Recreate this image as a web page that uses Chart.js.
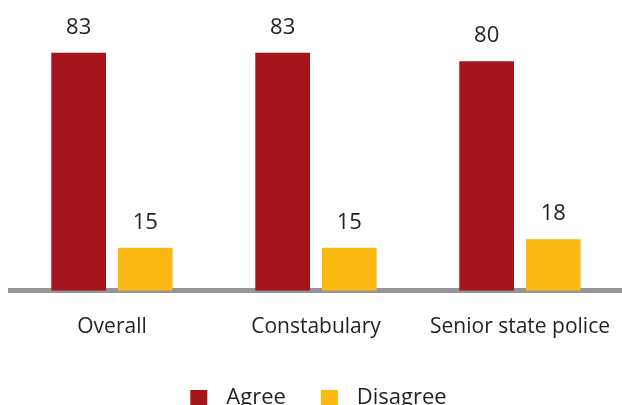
<!DOCTYPE html>
<html>
<head>
<meta charset="utf-8">
<script src="https://cdn.jsdelivr.net/npm/chart.js@4/dist/chart.umd.min.js"></script>
<style>
  html, body { margin: 0; padding: 0; background: #ffffff; overflow: hidden; }
  #wrap { position: relative; width: 622px; height: 419px; }
</style>
</head>
<body>
<div id="wrap"><canvas id="c"></canvas></div>
<script>
const categories = ["Overall", "Constabulary", "Senior state police"];
const agreeValues = [83, 83, 80];
const disagreeValues = [15, 15, 18];
const seriesNames = ["Agree", "Disagree"];

const RED = "#A3151B";
const GOLD = "#FDB913";
const GREY = "#939598";
const TEXT = "#231F20";
const FONT = "'Open Sans', 'DejaVu Sans', sans-serif";

// legend marker: 17px square with transparent margins (left 12, right 8)
function legendMarker(color) {
  const c = document.createElement("canvas");
  c.width = 37; c.height = 17;
  const g = c.getContext("2d");
  g.fillStyle = color;
  g.fillRect(12, 0, 17, 17);
  return c;
}

const valueLabels = {
  id: "valueLabels",
  afterDatasetsDraw(chart) {
    const ctx = chart.ctx;
    ctx.save();
    ctx.font = "22px " + FONT;
    ctx.fillStyle = TEXT;
    ctx.textAlign = "center";
    ctx.textBaseline = "alphabetic";
    chart.data.datasets.forEach((ds, i) => {
      const meta = chart.getDatasetMeta(i);
      meta.data.forEach((bar, j) => {
        ctx.fillText(String(ds.data[j]), bar.x, bar.y - 19);
      });
    });
    ctx.restore();
  }
};

// nudge the legend block slightly left
const legendShift = {
  id: "legendShift",
  afterLayout(chart) {
    if (chart.legend) { chart.legend.left -= 5; chart.legend.right -= 5; }
  }
};

new Chart(document.getElementById("c"), {
  type: "bar",
  data: {
    labels: categories,
    datasets: [
      { label: seriesNames[0], data: agreeValues, backgroundColor: RED,
        pointStyle: legendMarker(RED),
        categoryPercentage: 0.654, barPercentage: 0.82 },
      { label: seriesNames[1], data: disagreeValues, backgroundColor: GOLD,
        pointStyle: legendMarker(GOLD),
        categoryPercentage: 0.654, barPercentage: 0.82 }
    ]
  },
  options: {
    responsive: true,
    maintainAspectRatio: false,
    animation: false,
    layout: { padding: { left: 10, right: -3, top: 4, bottom: 0 } },
    scales: {
      x: {
        z: 1,
        grid: { display: false, drawTicks: false },
        border: { display: true, color: GREY, width: 5 },
        ticks: { color: TEXT, font: { family: FONT, size: 21 }, padding: 24, maxRotation: 0, autoSkip: false },
        afterFit(scale) { scale.paddingLeft = 0; scale.paddingRight = 0; }
      },
      y: {
        display: false,
        min: 0,
        max: 100
      }
    },
    plugins: {
      legend: {
        position: "bottom",
        labels: {
          usePointStyle: true,
          pointStyleWidth: 37,
          boxHeight: 17,
          color: TEXT,
          font: { family: FONT, size: 22 },
          padding: 23
        }
      },
      tooltip: { enabled: false }
    }
  },
  plugins: [valueLabels, legendShift]
});
</script>
</body>
</html>
